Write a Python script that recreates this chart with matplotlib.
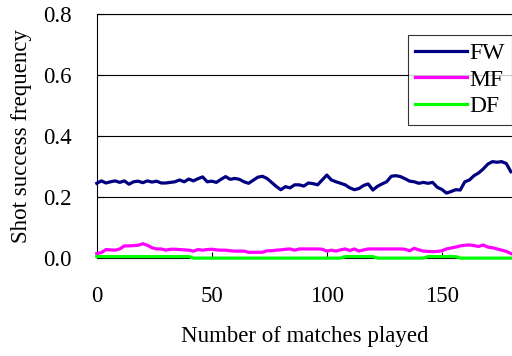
import matplotlib
matplotlib.use("Agg")
from matplotlib import pyplot as plt

# matches played, sampled every 2 matches
matches = list(range(0, 181, 2))

fw = [0.245, 0.253, 0.246, 0.250, 0.253, 0.248, 0.253, 0.242, 0.250, 0.252,
      0.247, 0.253, 0.249, 0.252, 0.246, 0.246, 0.248, 0.250, 0.256, 0.250,
      0.259, 0.253, 0.260, 0.266, 0.250, 0.252, 0.248, 0.258, 0.267, 0.258,
      0.261, 0.258, 0.250, 0.245, 0.255, 0.265, 0.268, 0.261, 0.248, 0.235,
      0.224, 0.234, 0.230, 0.240, 0.240, 0.236, 0.246, 0.244, 0.240, 0.256,
      0.272, 0.256, 0.250, 0.245, 0.240, 0.230, 0.224, 0.228, 0.238, 0.243,
      0.223, 0.235, 0.243, 0.250, 0.268, 0.270, 0.267, 0.260, 0.252, 0.250,
      0.245, 0.248, 0.245, 0.248, 0.232, 0.225, 0.213, 0.218, 0.224, 0.223,
      0.250, 0.256, 0.270, 0.279, 0.292, 0.308, 0.316, 0.314, 0.316, 0.310,
      0.283]

mf = [0.015, 0.018, 0.028, 0.027, 0.026, 0.030, 0.040, 0.040, 0.041, 0.042,
      0.047, 0.042, 0.034, 0.030, 0.030, 0.026, 0.029, 0.029, 0.028, 0.027,
      0.026, 0.023, 0.028, 0.026, 0.028, 0.029, 0.027, 0.026, 0.026, 0.024,
      0.023, 0.023, 0.023, 0.019, 0.019, 0.019, 0.019, 0.024, 0.024, 0.026,
      0.027, 0.029, 0.030, 0.026, 0.030, 0.030, 0.030, 0.030, 0.030, 0.029,
      0.023, 0.026, 0.023, 0.027, 0.030, 0.025, 0.030, 0.023, 0.027, 0.030,
      0.030, 0.030, 0.030, 0.030, 0.030, 0.030, 0.030, 0.029, 0.024, 0.032,
      0.027, 0.023, 0.022, 0.021, 0.022, 0.024, 0.030, 0.033, 0.036, 0.040,
      0.042, 0.043, 0.041, 0.038, 0.043, 0.036, 0.034, 0.030, 0.026, 0.022,
      0.015]

df = [0.005, 0.005, 0.005, 0.005, 0.005, 0.005, 0.005, 0.005, 0.005, 0.005,
      0.005, 0.005, 0.005, 0.005, 0.005, 0.005, 0.005, 0.005, 0.005, 0.005,
      0.005, 0.000, 0.000, 0.000, 0.000, 0.000, 0.000, 0.000, 0.000, 0.000,
      0.000, 0.000, 0.000, 0.000, 0.000, 0.000, 0.000, 0.000, 0.000, 0.000,
      0.000, 0.000, 0.000, 0.000, 0.000, 0.000, 0.000, 0.000, 0.000, 0.000,
      0.000, 0.000, 0.000, 0.000, 0.005, 0.005, 0.005, 0.005, 0.005, 0.005,
      0.005, 0.000, 0.000, 0.000, 0.000, 0.000, 0.000, 0.000, 0.000, 0.000,
      0.000, 0.000, 0.005, 0.005, 0.005, 0.005, 0.005, 0.005, 0.005, 0.000,
      0.000, 0.000, 0.000, 0.000, 0.000, 0.000, 0.000, 0.000, 0.000, 0.000,
      0.000]

plt.rcParams['font.family'] = ['Liberation Serif', 'DejaVu Serif']
fs = 16.5

fig = plt.figure(figsize=(5.12, 3.56), dpi=100)
ax = fig.add_axes([0.189, 0.275, 0.811, 0.686])

ax.plot(matches, fw, color='#000080', lw=2.3, label='FW', clip_on=False, zorder=3)
ax.plot(matches, mf, color='#ff00ff', lw=2.3, label='MF', clip_on=False, zorder=3)
ax.plot(matches, df, color='#00ff00', lw=2.3, label='DF', clip_on=False, zorder=3)

ax.set_xlim(0, 180.5)
ax.set_ylim(0, 0.8)
ax.set_xticks([0, 50, 100, 150])
ax.set_yticks([0.0, 0.2, 0.4, 0.6, 0.8])
ax.set_yticklabels(['0.0', '0.2', '0.4', '0.6', '0.8'])
ax.grid(axis='y', color='black', lw=0.8)
ax.set_axisbelow(True)
ax.spines['right'].set_visible(False)
for s in ['top', 'left', 'bottom']:
    ax.spines[s].set_linewidth(0.8)
ax.tick_params(direction='in', length=4, width=0.8, labelsize=fs)
ax.tick_params(axis='x', pad=20)
ax.tick_params(axis='y', pad=18)

ax.set_xlabel('Number of matches played', fontsize=fs, labelpad=14)
ax.set_ylabel('Shot success frequency', fontsize=fs, labelpad=8)

leg = ax.legend(loc='upper right', bbox_to_anchor=(1.0, 0.914), fontsize=17,
                frameon=True, fancybox=False, borderaxespad=0, handlelength=2.2,
                handletextpad=0.08, labelspacing=0.22, borderpad=0.32)
leg.get_frame().set_edgecolor('black')
leg.get_frame().set_linewidth(0.8)

fig.savefig('out.png', dpi=100)
